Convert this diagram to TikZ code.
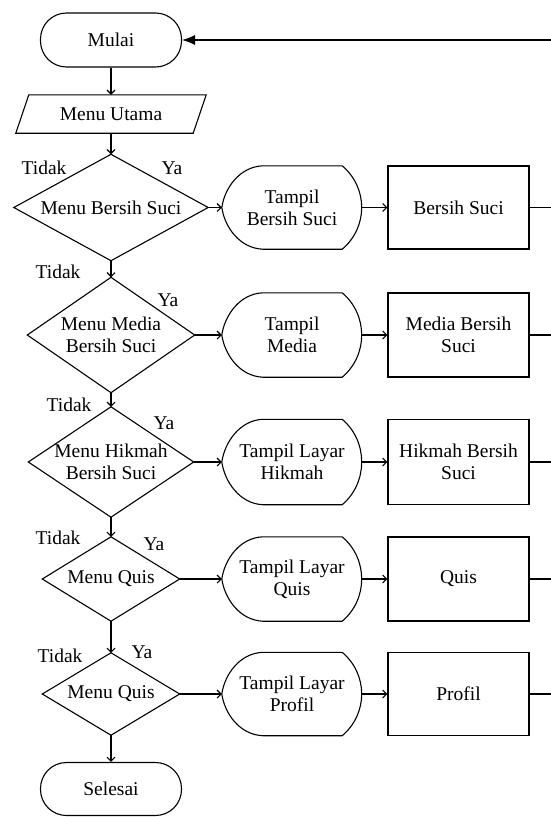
\documentclass[tikz,border=0pt]{standalone}
\usepackage{fontspec}
\setmainfont{Liberation Serif}
\usetikzlibrary{arrows.meta,calc}
\tikzset{
  ln/.style={line width=1.1pt, black},
  txt/.style={font=\fontsize{19.5}{22}\selectfont, align=center, inner sep=0pt},
  term/.style={txt, ln, draw, rectangle, rounded corners=26pt, minimum width=141pt, minimum height=54pt},
  boxn/.style={txt, rectangle, minimum width=#1},
  procbox/.style={txt, ln, draw, rectangle, minimum width=141pt},
  lbl/.style={font=\fontsize{19.5}{21}\selectfont, inner sep=0pt},
  arr/.style={ln, -{Straight Barb[length=4pt,width=8pt]}},
}
\newcommand\dispshape[1]{%
  \draw[ln] ($(#1.north west)+(41,0)$) -- ($(#1.north east)+(-20,0)$)
    .. controls ($(#1.north east)+(6,22)$) and ($(#1.south east)+(6,-22)$) .. ($(#1.south east)+(-20,0)$)
    -- ($(#1.south west)+(41,0)$)
    .. controls ($(#1.south west)+(18,-1)$) and ($(#1.west)+(3,20)$) .. (#1.west)
    .. controls ($(#1.west)+(3,-20)$) and ($(#1.north west)+(18,1)$) .. cycle;}
\newcommand\diamshape[1]{%
  \draw[ln] (#1.north) -- (#1.east) -- (#1.south) -- (#1.west) -- cycle;}
\begin{document}
\begin{tikzpicture}[x=1pt,y=-1pt]
\useasboundingbox (0,0) rectangle (551,817);
\fill[white] (0,0) rectangle (551,817);

% start / end
\node[term] (mulai) at (111,40) {Mulai};
\node[term, minimum height=53pt] (selesai) at (111,789) {Selesai};

% menu utama parallelogram
\node[boxn=190pt, minimum height=38pt] (mu) at (111,114) {Menu Utama};
\draw[ln] ($(mu.north west)+(13,0)$) -- (mu.north east) -- ($(mu.south east)+(-13,0)$) -- (mu.south west) -- cycle;

% decisions
\node[boxn=194pt, minimum height=106pt] (d1) at (111,207.5) {Menu Bersih Suci};
\node[boxn=167pt, minimum height=115pt] (d2) at (111,335) {Menu Media\\Bersih Suci};
\node[boxn=165pt, minimum height=110pt] (d3) at (111,462) {Menu Hikmah\\Bersih Suci};
\node[boxn=137pt, minimum height=84pt] (d4) at (111,579) {Menu Quis};
\node[boxn=137pt, minimum height=82pt] (d5) at (111,694) {Menu Quis};
\diamshape{d1}\diamshape{d2}\diamshape{d3}\diamshape{d4}\diamshape{d5}

% displays
\node[boxn=140pt, minimum height=83pt] (t1) at (292,207.5) {Tampil\\Bersih Suci};
\node[boxn=140pt, minimum height=84pt] (t2) at (292,335) {Tampil\\Media};
\node[boxn=140pt, minimum height=85pt] (t3) at (292,462) {Tampil Layar\\Hikmah};
\node[boxn=140pt, minimum height=84pt] (t4) at (292,579) {Tampil Layar\\Quis};
\node[boxn=140pt, minimum height=83pt] (t5) at (292,694) {Tampil Layar\\Profil};
\dispshape{t1}\dispshape{t2}\dispshape{t3}\dispshape{t4}\dispshape{t5}

% processes
\node[procbox, minimum height=83pt] (r1) at (458.5,207.5) {Bersih Suci};
\node[procbox, minimum height=84pt] (r2) at (458.5,335) {Media Bersih\\Suci};
\node[procbox, minimum height=85pt] (r3) at (458.5,462) {Hikmah Bersih\\Suci};
\node[procbox, minimum height=84pt] (r4) at (458.5,579) {Quis};
\node[procbox, minimum height=83pt] (r5) at (458.5,694) {Profil};

% labels
\node[lbl] (n1) at (44,168) {Tidak};
\node[lbl] (y1) at (172,168) {Ya};
\node[lbl] (n2) at (58,272) {Tidak};
\node[lbl] (y2) at (168,300) {Ya};
\node[lbl] (n3) at (69,405) {Tidak};
\node[lbl] (y3) at (164,423) {Ya};
\node[lbl] (n4) at (58,538) {Tidak};
\node[lbl] (y4) at (154,544) {Ya};
\node[lbl] (n5) at (60,656) {Tidak};
\node[lbl] (y5) at (142,652) {Ya};

% vertical flow
\draw[arr] (mulai.south) -- (mu.north);
\draw[arr] (mu.south) -- (d1.north);
\draw[arr] (d1.south) -- (d2.north);
\draw[arr] (d2.south) -- (d3.north);
\draw[arr] (d3.south) -- (d4.north);
\draw[arr] (d4.south) -- (d5.north);
\draw[arr] (d5.south) -- (selesai.north);

% horizontal flow
\coordinate (edge) at (551,0);
\foreach \i in {1,...,5}{
  \draw[arr] (d\i.east) -- (t\i.west);
  \draw[arr] (t\i.east) -- (r\i.west);
  \draw[ln] (r\i.east) -- (r\i.east -| edge);
}
\coordinate (ret) at (551,40);
\draw[ln, -{Latex[length=13pt,width=10pt]}] (ret) -- (mulai.east);
\end{tikzpicture}
\end{document}
